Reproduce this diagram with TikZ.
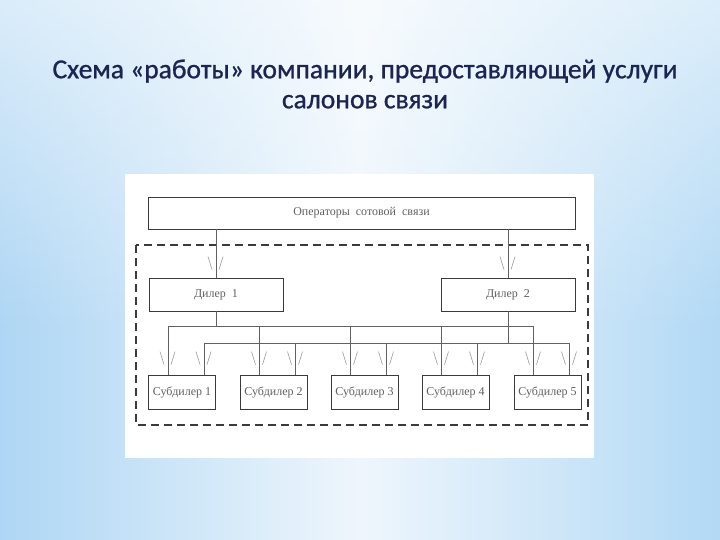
\documentclass[tikz,border=0pt]{standalone}
\usepackage{fontspec}
\setmainfont{Liberation Serif}
\newfontfamily\titlefont[FakeBold=0.9]{Carlito}
\usetikzlibrary{fadings}
\definecolor{bgedge}{HTML}{AED6F4}
\definecolor{bgedger}{HTML}{B2D9F5}
\definecolor{bgmid}{HTML}{EEF6FC}
\definecolor{band}{HTML}{A6D0F2}
\definecolor{titlecol}{HTML}{1B2452}
\definecolor{linecol}{HTML}{3A3A3A}
\definecolor{txtcol}{HTML}{606060}
\tikzfading[name=topfade, top color=transparent!0, bottom color=transparent!100]
\tikzfading[name=bandfade, top color=transparent!100, middle color=transparent!20, bottom color=transparent!100]
\tikzset{
  x=1pt, y=-1pt,
  box/.style={draw=linecol, line width=0.8pt, inner sep=0pt, font=\fontsize{12}{14}\selectfont, text=txtcol},
  conn/.style={draw=linecol!80, line width=0.6pt},
  markline/.style={draw=gray!80, line width=0.6pt},
  amark/.pic={\draw[markline] (-8,-13) -- (-4,0); \draw[markline] (7,-13) -- (3,0);}
}
\begin{document}
\begin{tikzpicture}
\useasboundingbox (0,0) rectangle (720,540);
% background
\shade[left color=bgedge, right color=bgedger, middle color=bgmid] (0,0) rectangle (720,540);
\fill[white, opacity=0.55, path fading=topfade] (0,0) rectangle (720,330);
\fill[band, opacity=0.35, path fading=bandfade] (0,345) rectangle (720,425);
% title
\node[font=\titlefont\fontsize{27.5}{30}\selectfont, text=titlecol, align=center] (title) at (365,84)
  {Схема «работы» компании, предоставляющей услуги\\салонов связи};
% white panel
\fill[white] (125,174) rectangle (594,458);
% dashed frame
\draw[linecol, line width=1.2pt, dash pattern=on 8pt off 5pt] (136,245) rectangle (588,425);
% boxes
\node[box, minimum width=427pt, minimum height=32pt] (top) at (361.5,213) {Операторы\ \ сотовой\ \ связи};
\node[box, minimum width=134pt, minimum height=33pt] (d1) at (216,294.5) {Дилер\ \ 1};
\node[box, minimum width=134pt, minimum height=33pt] (d2) at (508,294.5) {Дилер\ \ 2};
\foreach \i/\c in {1/182,2/273.5,3/364.5,4/455.5,5/547.5}{
  \node[box, minimum width=67pt, minimum height=34pt] (s\i) at (\c,392) {Субдилер\ \i};
  \coordinate (u\i) at ([xshift=-14pt]s\i.north);
  \coordinate (l\i) at ([xshift=22pt]s\i.north);
}
% buses
\coordinate (ub) at (0,326);
\coordinate (lb) at (0,343);
\draw[conn] (top.south -| d1.north) -- (d1.north);
\draw[conn] (top.south -| d2.north) -- (d2.north);
\draw[conn] (d1.south) -- (d1.south |- ub);
\draw[conn] (d2.south) -- (d2.south |- lb);
\draw[conn] (u1 |- ub) -- (u5 |- ub);
\draw[conn] (l1 |- lb) -- (l5 |- lb);
\foreach \i in {1,...,5}{
  \draw[conn] (u\i |- ub) -- (u\i);
  \draw[conn] (l\i |- lb) -- (l\i);
  \pic at ([yshift=10pt]u\i) {amark};
  \pic at ([yshift=10pt]l\i) {amark};
}
\pic at ([yshift=8pt]d1.north) {amark};
\pic at ([yshift=8pt]d2.north) {amark};
\end{tikzpicture}
\end{document}
